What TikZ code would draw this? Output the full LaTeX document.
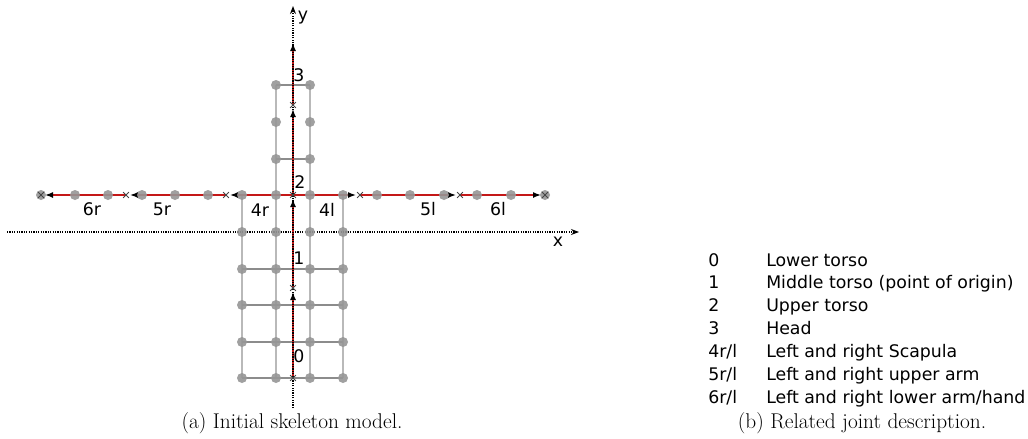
\documentclass[tikz,border=0pt]{standalone}
\usepackage{fontspec}
\newfontfamily\dv{DejaVu Sans}
\usetikzlibrary{arrows.meta,shapes.misc}
\definecolor{segred}{RGB}{196,24,24}
\definecolor{dotgray}{RGB}{150,150,150}
\definecolor{gridv}{RGB}{185,185,185}
\definecolor{gridh}{RGB}{140,140,140}
\definecolor{markc}{RGB}{70,70,70}
\tikzset{
  gv/.style={draw=gridv, line width=0.8pt},
  gh/.style={draw=gridh, line width=0.8pt},
  axisline/.style={line width=0.9pt, dash pattern=on 0.9pt off 0.9pt, -{Stealth[length=6pt,width=4.5pt]}},
  seg/.style={draw=segred, line width=1.1pt, shorten >=3pt, -{Latex[black,length=6pt,width=4.5pt]}},
  joint/.style={circle, fill=dotgray, fill opacity=0.9, inner sep=0pt, minimum size=7.5pt},
  xm/.style={cross out, draw=markc, line width=0.55pt, inner sep=0pt, minimum size=3.8pt},
  lab/.style={font=\dv\fontsize{13pt}{15pt}\selectfont, inner sep=0pt},
  leg/.style={font=\dv\fontsize{13pt}{15pt}\selectfont, inner sep=0pt, anchor=base west},
  captxt/.style={font=\fontsize{16pt}{19pt}\selectfont, inner sep=0pt},
}
\begin{document}
\begin{tikzpicture}[x=0.75pt,y=-0.75pt]
\useasboundingbox (0,0) rectangle (1028,439);

% joint coordinates
\coordinate (c0) at (293,378);
\coordinate (c1) at (293,288);
\coordinate (c2) at (293,195);
\coordinate (c3) at (293,105);
\coordinate (ctop) at (293,39);
\coordinate (r4) at (226,195);
\coordinate (r5) at (126,195);
\coordinate (r6) at (41,195);
\coordinate (l4) at (360,195);
\coordinate (l5) at (460,195);
\coordinate (l6) at (545,195);
\coordinate (xs) at (7,232);
\coordinate (xe) at (579,232);
\coordinate (ys) at (293,408);
\coordinate (ye) at (293,6);

% grid
\foreach \x in {276,310} { \draw[gv] (\x,85) -- (\x,378); }
\foreach \x in {242,343} { \draw[gv] (\x,195) -- (\x,378); }
\foreach \y in {85,159} { \draw[gh] (276,\y) -- (310,\y); }
\foreach \y in {269,305,342,378} { \draw[gh] (242,\y) -- (343,\y); }

% x axis
\draw[axisline] (xs) -- (xe);

% red skeleton segments
\draw[seg] (c0) -- (c1);
\draw[seg] (c1) -- (c2);
\draw[seg] (c2) -- (c3);
\draw[seg] (c3) -- (ctop);
\draw[seg] (c2) -- (r4);
\draw[seg] (r4) -- (r5);
\draw[seg] (r5) -- (r6);
\draw[seg] (c2) -- (l4);
\draw[seg] (l4) -- (l5);
\draw[seg] (l5) -- (l6);

% y axis (dotted, over the red line)
\draw[axisline] (ys) -- (ye);

% grey joints
\foreach \x [count=\i] in {41,75,108,142,175,208,242,276,310,343,377,410,444,477,511,545} {
  \node[joint] (a\i) at (\x,195) {};
}
\foreach \x [count=\i] in {276,310} {
  \foreach \y [count=\j] in {85,122,159} { \node[joint] (h\i\j) at (\x,\y) {}; }
}
\foreach \x [count=\i] in {242,276,310,343} {
  \foreach \y [count=\j] in {232,269,305,342,378} { \node[joint] (t\i\j) at (\x,\y) {}; }
}

% joint markers
\foreach \p in {c0,c1,c2,c3,r4,r5,r6,l4,l5,l6} { \node[xm] (m\p) at (\p) {}; }

% labels
\node[lab] (n0) at (299,356) {0};
\node[lab] (n1) at (299,258) {1};
\node[lab] (n2) at (300,182) {2};
\node[lab] (n3) at (299,75) {3};
\node[lab] (n4r) at (260,210) {4r};
\node[lab] (n4l) at (327,210) {4l};
\node[lab] (n5r) at (162,209) {5r};
\node[lab] (n5l) at (428,209) {5l};
\node[lab] (n6r) at (92,209) {6r};
\node[lab] (n6l) at (498,209) {6l};
\node[lab] (nx) at (558,242) {x};
\node[lab] (ny) at (303,18) {y};

% legend
\foreach \k/\d [count=\i from 0] in {{0}/{Lower torso},{1}/{Middle torso (point of origin)},{2}/{Upper torso},{3}/{Head},{4r/l}/{Left and right Scapula},{5r/l}/{Left and right upper arm},{6r/l}/{Left and right lower arm/hand}} {
  \node[leg] (k\i) at (708,{266+22.9*\i}) {\k};
  \node[leg] (d\i) at (766,{266+22.9*\i}) {\d};
}

% captions
\node[captxt] (capa) at (292,423) {(a) Initial skeleton model.};
\node[captxt] (capb) at (862,423) {(b) Related joint description.};
\end{tikzpicture}
\end{document}
